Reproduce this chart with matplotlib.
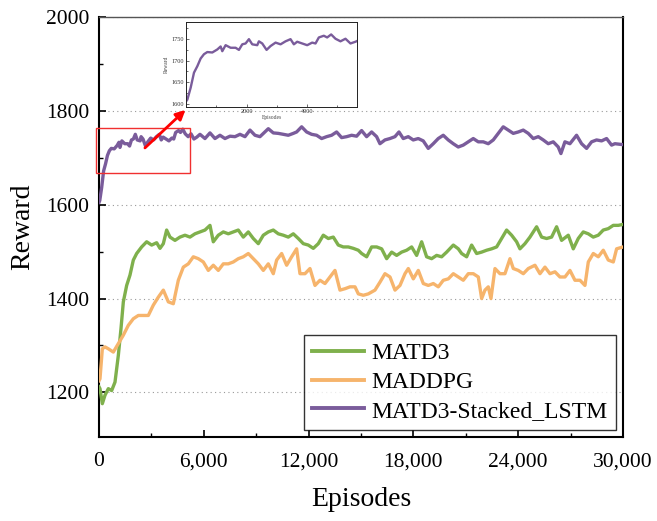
import matplotlib
matplotlib.use("Agg")
import matplotlib.pyplot as plt
from matplotlib.ticker import MultipleLocator, FuncFormatter
from matplotlib.patches import Rectangle

plt.rcParams['font.family'] = ['Liberation Serif', 'DejaVu Serif']
plt.rcParams['mathtext.fontset'] = 'stix'

# ---------------- data ----------------
lstm_x = [0, 44, 154, 264, 374, 484, 594, 704, 869, 1034, 1144, 1199, 1309, 1474, 1639, 1749,
          1859, 1969, 2079, 2189, 2354, 2409, 2519, 2662, 2794, 2959, 3124, 3289, 3454, 3564,
          3674, 3839, 4004, 4169, 4279, 4389, 4554, 4664, 4796, 4939, 5104, 5269, 5434, 5599,
          5781, 6067, 6354, 6640, 6926, 7212, 7499, 7785, 8071, 8357, 8644, 8930, 9216, 9502,
          9693, 9979, 10265, 10551, 10837, 11124, 11315, 11601, 11887, 12173, 12459, 12746,
          13032, 13318, 13604, 13890, 14177, 14463, 14749, 15035, 15322, 15608, 15894, 16085,
          16371, 16657, 16944, 17173, 17419, 17706, 17992, 18278, 18564, 18851, 19137, 19423,
          19709, 19995, 20282, 20568, 20854, 21140, 21427, 21713, 21999, 22285, 22572, 22858,
          23144, 23430, 23717, 24003, 24289, 24575, 24862, 25148, 25434, 25720, 26007, 26293,
          26446, 26675, 26961, 27342, 27629, 27915, 28201, 28487, 28774, 29060, 29346, 29537,
          30000]
lstm_y = [1605, 1609, 1637, 1672, 1687, 1705, 1715, 1720, 1719, 1726, 1733, 1722, 1736, 1730,
          1730, 1725, 1738, 1740, 1750, 1738, 1736, 1745, 1740, 1725, 1734, 1742, 1738, 1745,
          1750, 1738, 1744, 1740, 1736, 1742, 1740, 1754, 1758, 1754, 1761, 1751, 1745, 1751,
          1740, 1744,
          1750, 1741, 1753, 1741, 1748, 1741, 1746, 1745, 1750, 1745, 1759, 1748, 1745, 1755,
          1762, 1753, 1752, 1750, 1748, 1752, 1755, 1766, 1755, 1750, 1748, 1741,
          1745, 1748, 1755, 1743, 1745, 1748, 1746, 1758, 1745, 1755, 1745, 1730,
          1738, 1741, 1745, 1755, 1741, 1745, 1738, 1741, 1736, 1720, 1730, 1741,
          1748, 1738, 1730, 1723, 1727, 1734, 1741, 1734, 1734, 1730, 1738, 1752,
          1766, 1759, 1752, 1755, 1759, 1752, 1741, 1745, 1738, 1730, 1734, 1723,
          1709, 1734, 1730, 1748, 1730, 1720, 1734, 1738, 1736, 1741, 1727, 1730,
          1728]

matd3_x = [0, 57, 191, 343, 534, 725, 916, 1107, 1259, 1393, 1584, 1774, 1965, 2156, 2442, 2728,
           3015, 3301, 3492, 3683, 3873, 4064, 4350, 4636, 4923, 5209, 5495, 5781, 6067, 6354,
           6544, 6830, 7117, 7403, 7689, 7975, 8262, 8548, 8834, 9120, 9407, 9693, 9979, 10265,
           10551, 10837, 11124, 11410, 11696, 11982, 12269, 12555, 12841, 13127, 13414, 13700,
           13986, 14272, 14559, 14845, 15038, 15324, 15610, 15896, 16182, 16469, 16755, 17041,
           17327, 17613, 17900, 18186, 18472, 18758, 19044, 19330, 19617, 19903, 20285, 20571,
           20762, 21048, 21334, 21620, 21906, 22193, 22479, 22765, 23051, 23337, 23623, 23910,
           24100, 24387, 24673, 25054, 25341, 25627, 25913, 26199, 26485, 26867, 27153, 27439,
           27726, 28012, 28298, 28584, 28870, 29156, 29443, 29729, 30000]
matd3_y = [1212, 1208, 1176, 1194, 1208, 1204, 1222, 1279, 1336, 1393, 1428, 1450, 1482, 1496,
           1510, 1521, 1514, 1519, 1507, 1517, 1546, 1531, 1524, 1531, 1535, 1531, 1538, 1542,
           1546, 1556, 1521, 1535, 1542, 1538, 1542, 1546, 1531, 1542, 1528, 1517, 1535, 1542,
           1546, 1538, 1535, 1531, 1538, 1528, 1517, 1514, 1507, 1517, 1535, 1528, 1531, 1514,
           1510, 1510, 1507, 1503, 1496, 1489, 1510, 1510, 1506, 1485, 1499, 1492, 1499, 1503,
           1510, 1492, 1521, 1489, 1485, 1492, 1489, 1499, 1514, 1506, 1496, 1489, 1514, 1496,
           1499, 1503, 1506, 1510, 1528, 1546, 1535, 1521, 1506, 1517, 1531, 1553, 1531, 1528,
           1531, 1553, 1524, 1535, 1506, 1528, 1542, 1538, 1531, 1535, 1546, 1549, 1556, 1556,
           1558]

maddpg_x = [0, 57, 191, 343, 534, 820, 1107, 1393, 1679, 1965, 2251, 2537, 2824, 3110, 3396,
            3683, 3969, 4255, 4541, 4828, 5114, 5400, 5686, 5972, 6259, 6545, 6831, 7117, 7403,
            7690, 7976, 8262, 8548, 8834, 9121, 9407, 9693, 9979, 10170, 10457, 10743, 11029,
            11315, 11506, 11793, 12079, 12365, 12651, 12938, 13224, 13510, 13796, 14082, 14369,
            14656, 14847, 15133, 15419, 15801, 16087, 16373, 16660, 16946, 17232, 17518, 17709,
            17995, 18281, 18568, 18854, 19140, 19426, 19712, 19999, 20285, 20571, 20857, 21143,
            21430, 21716, 21907, 22097, 22288, 22441, 22670, 22956, 23242, 23529, 23719, 24005,
            24292, 24578, 24960, 25246, 25532, 25818, 26105, 26391, 26677, 26963, 27249, 27536,
            27822, 28013, 28299, 28585, 28871, 29158, 29444, 29634, 30000]
maddpg_y = [1225, 1229, 1293, 1297, 1293, 1286, 1304, 1322, 1343, 1357, 1364, 1364, 1364, 1386,
            1403, 1418, 1393, 1389, 1439, 1467, 1474, 1489, 1485, 1478, 1460, 1471, 1460, 1474,
            1474, 1478, 1485, 1489, 1496, 1485, 1474, 1460, 1474, 1453, 1482, 1496, 1471, 1489,
            1506, 1453, 1453, 1464, 1428, 1439, 1432, 1446, 1460, 1418, 1421, 1425,
            1425, 1410, 1407, 1410, 1418, 1435, 1453, 1446, 1418, 1428, 1453, 1464,
            1442, 1460, 1432, 1428, 1432, 1425, 1439, 1442, 1453, 1446, 1439, 1453,
            1453, 1446, 1400, 1418, 1425, 1400, 1464, 1453, 1453, 1485, 1464, 1460,
            1453, 1464, 1471, 1453, 1467, 1453, 1457, 1446, 1446, 1460, 1439, 1439,
            1428, 1478, 1496, 1489, 1503, 1482, 1478, 1506, 1510]

x_ticks = [0, 6000, 12000, 18000, 24000, 30000]
y_ticks = [1200, 1400, 1600, 1800, 2000]
labels = ["MATD3", "MADDPG", "MATD3-Stacked_LSTM"]

c_green = "#7FB04C"
c_orange = "#F6B46C"
c_purple = "#7A5C9B"

# ---------------- figure ----------------
fig = plt.figure(figsize=(6.57, 5.21), dpi=100)
ax = fig.add_axes([99/657, 1-437/521, 524/657, 420/521])

ax.plot(matd3_x, matd3_y, color=c_green, lw=2.4, label=labels[0], zorder=3)
ax.plot(maddpg_x, maddpg_y, color=c_orange, lw=2.4, label=labels[1], zorder=3)
ax.plot(lstm_x, lstm_y, color=c_purple, lw=2.4, label=labels[2], zorder=3)

ax.set_xlim(0, 30000)
ax.set_ylim(1105, 2000)
ax.set_xticks(x_ticks)
ax.set_yticks(y_ticks)
ax.xaxis.set_minor_locator(MultipleLocator(3000))
ax.yaxis.set_minor_locator(MultipleLocator(100))
ax.xaxis.set_major_formatter(FuncFormatter(lambda v, p: f"{int(v):,}"))
ax.tick_params(which='major', direction='in', length=5, width=1.2, labelsize=15.5,
               top=False, right=False)
ax.tick_params(axis='x', which='major', pad=11)
ax.tick_params(axis='y', which='major', pad=7)
ax.tick_params(which='minor', direction='in', length=3, width=1.0, top=False, right=False)
ax.grid(axis='y', which='major', linestyle=(0, (1, 3)), color='#999999', lw=0.8)

for s in ['left', 'bottom', 'right']:
    ax.spines[s].set_linewidth(1.5)
    ax.spines[s].set_color('black')
ax.spines['top'].set_linewidth(1.0)
ax.spines['top'].set_color('#555555')

ax.set_xlabel("Episodes", fontsize=20, labelpad=11)
ax.set_ylabel("Reward", fontsize=20, labelpad=8)

leg = ax.legend(loc='lower right', fontsize=17, frameon=True, fancybox=False,
                edgecolor='black', handlelength=2.2, handletextpad=0.3,
                labelspacing=0.3, borderpad=0.35, borderaxespad=0.3)
leg.get_frame().set_linewidth(1.0)
for h in leg.get_lines():
    h.set_linewidth(2.8)

# red box and arrow
rect = Rectangle((-170, 1667), 5380, 96, fill=False, edgecolor='#F03030', lw=1.0,
                 clip_on=False, zorder=4)
ax.add_patch(rect)
ax.annotate("", xy=(4950, 1802), xytext=(2630, 1721),
            arrowprops=dict(arrowstyle='-|>', color='#FF0000', lw=2.0,
                            mutation_scale=14, shrinkA=0, shrinkB=0), zorder=5)

# inset
axin = fig.add_axes([186/657, 1-107/521, 171/657, 85/521])
axin.plot(lstm_x, lstm_y, color=c_purple, lw=1.7)
axin.set_xlim(0, 5650)
axin.set_ylim(1592, 1790)
axin.set_xticks([2000, 4000])
axin.set_yticks([1600, 1650, 1700, 1750])
axin.xaxis.set_minor_locator(MultipleLocator(1000))
axin.yaxis.set_minor_locator(MultipleLocator(25))
axin.tick_params(which='major', direction='in', length=2, width=0.5, labelsize=4.5,
                 pad=1.5, colors='#333333')
axin.tick_params(which='minor', direction='in', length=1.2, width=0.4)
axin.set_xlabel("Episodes", fontsize=4, labelpad=0.5, color='#444444')
axin.set_ylabel("Reward", fontsize=4, labelpad=1.5, color='#444444')
for s in axin.spines.values():
    s.set_linewidth(0.7)
    s.set_color('#222222')

fig.savefig("out.png", dpi=100)
